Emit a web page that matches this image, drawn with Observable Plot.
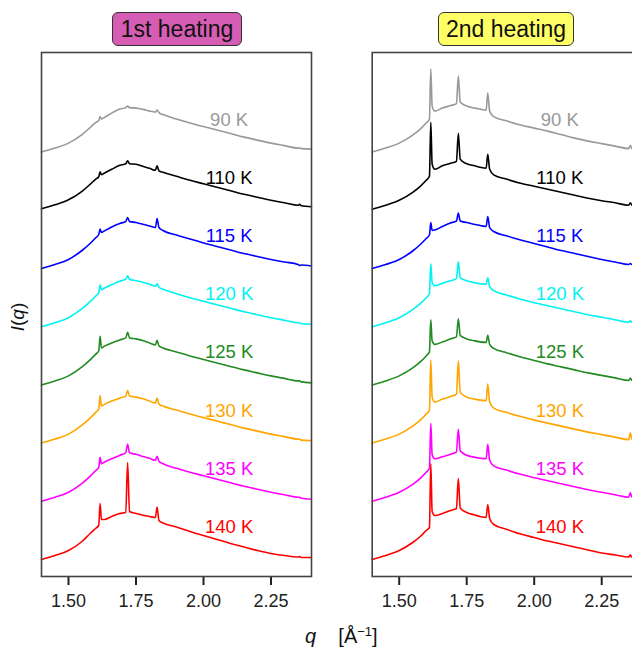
<!DOCTYPE html>
<html>
<head>
<meta charset="utf-8">
<script src="https://cdn.jsdelivr.net/npm/d3@7"></script>
<script src="https://cdn.jsdelivr.net/npm/@observablehq/plot@0.6"></script>
<style>
  html, body { margin: 0; padding: 0; background: #fff; }
  #wrap { position: relative; width: 632px; height: 649px; overflow: hidden;
          font-family: "Liberation Sans", Arial, Helvetica, sans-serif; }
  .panel { position: absolute; top: 0; }
  .panel svg { max-width: none !important; display: block; }
  .title { position: absolute; top: 12px; height: 34px; box-sizing: border-box;
           border: 1.5px solid #333; border-radius: 6px; font-size: 23px; line-height: 32px;
           text-align: center; color: #111; }
  #ylab { position: absolute; left: 18px; top: 317px; transform: translate(-50%, -50%) rotate(-90deg);
          font-size: 19px; color: #111; white-space: nowrap; }
  #xlab { position: absolute; left: 305px; top: 624px; font-size: 20px; color: #111; white-space: nowrap; }
  #xlab sup { font-size: 13px; vertical-align: 7px; }
</style>
</head>
<body>
<div id="wrap">
  <div class="panel" id="p1" style="left:0;width:330px"></div>
  <div class="panel" id="p2" style="left:330px;width:322px"></div>
  <div class="title" style="left:112px;width:130px;background:#d65db4">1st heating</div>
  <div class="title" style="left:438px;width:136px;background:#ffff66">2nd heating</div>
  <div id="ylab"><i>I</i>(<i>q</i>)</div>
  <div id="xlab"><i>q</i>&nbsp;&nbsp;&nbsp;&nbsp;[Å<sup>−1</sup>]</div>
</div>
<script>
// Shared q grid (Å^-1)
const q = [1.40, 1.45, 1.50, 1.55, 1.58, 1.60, 1.612, 1.617, 1.622, 1.632, 1.66, 1.69, 1.712, 1.719, 1.726,
           1.75, 1.78, 1.80, 1.822, 1.828, 1.835, 1.85, 1.90, 1.95, 2.00, 2.05, 2.10, 2.15, 2.20, 2.25,
           2.30, 2.35, 2.356, 2.362, 2.40];

const temps = ["90 K", "110 K", "115 K", "120 K", "125 K", "130 K", "135 K", "140 K"];
const xTicks = [1.50, 1.75, 2.00, 2.25];

// 1st heating intensities (arbitrary units, relative to each curve's own baseline)
const h1_90K  = [0, 4, 9, 17.5, 24.5, 29.5, 31.5, 35.5, 33, 34.5, 39, 43, 44.5, 46, 44.5, 44, 42.5, 41, 40, 42, 39.5, 37.5, 33, 29, 25.5, 22, 18.5, 15, 12, 9, 6.5, 4, 4, 3.5, 3];
const h1_110K = [1.5, 5.5, 10.5, 19, 26, 31, 33.5, 38.5, 35.5, 37, 41, 45, 46.5, 49.5, 46.5, 46, 43.5, 42, 40, 44.5, 39.5, 38, 34, 30, 26.5, 23, 19.5, 16, 13, 10, 7.5, 5, 6, 4.5, 3.5];
const h1_115K = [0, 4, 9, 18, 25, 30.5, 34, 39.5, 36, 37.5, 41.5, 45, 47, 51, 47, 46, 44, 42.5, 41, 50, 41, 38, 33.5, 29.5, 25.5, 22, 18.5, 15, 12, 9, 6.5, 4, 3, 3.5, 2.5];
const h1_120K = [0, 4, 9, 18, 25, 30.5, 34, 42, 37, 38.5, 42, 45.5, 47.5, 51, 47.5, 46, 44, 42.5, 40.5, 43, 39.5, 37.5, 33, 29, 25.5, 22, 18.5, 15, 12, 9, 6.5, 4, 4, 3, 2.5];
const h1_125K = [0, 4, 9, 18, 25, 30.5, 34, 48.5, 37, 38.5, 42, 45, 47, 52.5, 47, 46, 44, 42, 40, 44.5, 39, 37, 33, 29, 25.5, 22, 18.5, 15, 12, 9, 6.5, 4, 4, 3, 2];
const h1_130K = [0, 4, 9, 18, 25, 30.5, 34, 47.5, 37, 38.5, 42, 45, 47, 52.5, 47, 46, 44, 42, 40, 45, 39, 37, 33, 29, 25.5, 22, 18.5, 15, 12, 9, 6.5, 4, 4, 3, 2.5];
const h1_135K = [0, 4, 9, 18, 25, 30.5, 34, 44, 37.5, 39, 42.5, 46, 48.5, 57, 48.5, 47, 44.5, 43, 41, 45, 40, 37.5, 33, 29, 25.5, 22, 18.5, 15, 12, 9, 6.5, 4, 4, 3, 2];
const h1_140K = [0, 4, 9, 18, 26, 31, 34, 56, 40, 40, 43, 46, 47, 97, 48, 46, 44, 43, 42, 52.5, 39, 36.5, 32.5, 28, 24, 20, 16, 12.5, 9, 6, 4, 2.5, 3, 2, 2];

// 2nd heating intensities
const h2_90K  = [0, 4, 9, 17, 23.5, 29, 33, 83, 46, 41, 44, 46.5, 48.5, 76, 50, 46, 44, 43, 42, 59, 41, 35.5, 31, 27, 24, 21, 17.5, 14, 11, 8.5, 6, 3.5, 6.5, 3.5, 3];
const h2_110K = [1, 5, 10, 18, 24.5, 30, 34, 88, 46, 41, 44.5, 47, 49, 77, 51, 46.5, 44.5, 43, 42, 56, 41, 35.5, 31, 27, 24, 21, 18, 15, 12, 9.5, 7.5, 5, 7.5, 5, 4.5];
const h2_115K = [0, 4, 9, 17.5, 24.5, 30, 33.5, 46, 38, 38.5, 42, 45.5, 47.5, 55.5, 47.5, 46, 44, 43, 42, 52, 41, 37, 32.5, 28.5, 25, 21.5, 18, 15, 12, 9, 6.5, 4, 5, 4, 3.5];
const h2_120K = [0, 4, 9, 17, 23.5, 29, 33, 63, 44, 41, 43.5, 46, 48, 65, 49, 46, 44, 43, 42.5, 49, 40, 36, 31.5, 27.5, 24, 21, 18, 15, 12, 9.5, 7, 4.5, 6, 4.5, 4];
const h2_125K = [0, 4, 9, 17, 23.5, 29, 33, 65, 44, 40.5, 43, 46, 48, 66, 49.5, 46, 44, 43, 42.5, 49.5, 40.5, 36.5, 32, 28, 24.5, 21, 18, 15, 12, 9.5, 7, 4.5, 6.5, 4.5, 4];
const h2_130K = [0, 4, 9, 17, 23.5, 29, 33, 83, 46, 41, 44, 46.5, 49, 82, 51, 46, 44, 43, 42.5, 59, 41, 35, 30.5, 26.5, 23, 20, 17, 14, 11, 8.5, 6, 3.5, 10, 4, 3.5];
const h2_135K = [0, 4, 9, 17, 23.5, 29, 33, 78, 46.5, 42.5, 44.5, 47, 49.5, 72, 50.5, 46, 44, 43, 42.5, 57, 41, 35.5, 31, 27, 23.5, 20.5, 17.5, 14.5, 11.5, 9, 6.5, 4, 8.5, 4, 3.5];
const h2_140K = [0, 4, 9, 17, 23.5, 29, 32, 96, 48, 44, 46, 49, 51, 81, 51.5, 47, 44.5, 43, 42, 55, 41, 35, 30, 25.5, 22, 18.5, 15.5, 12.5, 9.5, 6.5, 4.5, 2.5, 4.5, 2.5, 2];

const heating1 = [h1_90K, h1_110K, h1_115K, h1_120K, h1_125K, h1_130K, h1_135K, h1_140K];
const heating2 = [h2_90K, h2_110K, h2_115K, h2_120K, h2_125K, h2_130K, h2_135K, h2_140K];

// styles / layout
const colors = ["#999999", "#000000", "#0000ff", "#00f2f2", "#228b22", "#ffa500", "#ff00ff", "#ff0000"];
const SPACING = 58.2;   // vertical offset between stacked curves
const LABEL_Q = 2.095, LABEL_DY = 32.5;

function panel(curves, marginLeft, width) {
  const rows = [];
  curves.forEach((vals, i) => {
    const off = (curves.length - 1 - i) * SPACING;
    vals.forEach((v, j) => rows.push({q: q[j], I: v + off, T: temps[i]}));
  });
  const labels = temps.map((t, i) => ({T: t, y: (temps.length - 1 - i) * SPACING + LABEL_DY}));
  return Plot.plot({
    width, height: 649,
    marginLeft, marginRight: width - marginLeft - 270, marginTop: 52, marginBottom: 73,
    style: {fontFamily: '"Liberation Sans", Arial, Helvetica, sans-serif', fontSize: "18px", color: "#222", background: "transparent", maxWidth: "none"},
    x: {domain: [1.4, 2.4], ticks: xTicks, tickFormat: d3.format(".2f"), tickSize: 9, tickPadding: 9, label: null},
    y: {domain: [-17, 507], axis: null},
    color: {domain: temps, range: colors},
    marks: [
      Plot.line(rows, {x: "q", y: "I", z: "T", stroke: "T", strokeWidth: 1.6, curve: "monotone-x"}),
      Plot.text(labels, {x: () => LABEL_Q, y: "y", text: "T", fill: "T", fontSize: 18.5}),
      Plot.frame({stroke: "#444", strokeWidth: 1.6})
    ]
  });
}

document.getElementById("p1").appendChild(panel(heating1, 41, 330));
document.getElementById("p2").appendChild(panel(heating2, 41.7, 322));
document.querySelectorAll(".panel svg g[aria-label*='x-axis']").forEach(g => {
  g.querySelectorAll("text").forEach(t => { t.style.fontSize = "18px"; });
  g.querySelectorAll("path, line").forEach(p => p.setAttribute("stroke-width", 2));
});
</script>
</body>
</html>
